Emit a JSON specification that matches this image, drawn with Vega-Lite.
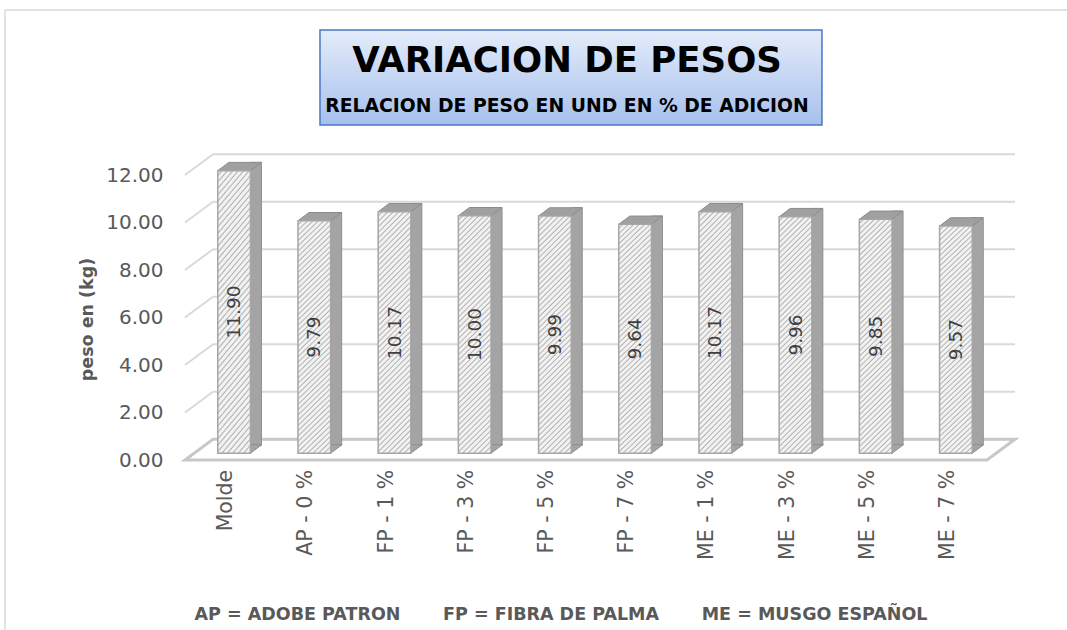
{
  "$schema": "https://vega.github.io/schema/vega-lite/v6.json",
  "width": 802,
  "height": 285,
  "autosize": "none",
  "padding": {"left": 194, "top": 168.3, "right": 71, "bottom": 176.7},
  "background": "white",
  "config": {"view": {"stroke": null}, "font": "DejaVu Sans"},
  "datasets": {
    "bars": [
      {"c": "Molde", "v": 11.90},
      {"c": "AP - 0 %", "v": 9.79},
      {"c": "FP - 1 %", "v": 10.17},
      {"c": "FP - 3 %", "v": 10.00},
      {"c": "FP - 5 %", "v": 9.99},
      {"c": "FP - 7 %", "v": 9.64},
      {"c": "ME - 1 %", "v": 10.17},
      {"c": "ME - 3 %", "v": 9.96},
      {"c": "ME - 5 %", "v": 9.85},
      {"c": "ME - 7 %", "v": 9.57}
    ],
    "grid": [{"g": 0}, {"g": 2}, {"g": 4}, {"g": 6}, {"g": 8}, {"g": 10}, {"g": 12}],
    "one": [{"k": 1}]
  },
  "resolve": {"scale": {"x": "independent", "y": "independent"}},
  "layer": [
    {
      "data": {"name": "one"},
      "mark": {"type": "rule", "color": "#d9d9d9", "strokeWidth": 1.5},
      "encoding": {
        "x": {"datum": -0.2357, "type": "quantitative", "scale": {"domain": [0, 1], "nice": false, "zero": false}, "axis": null},
        "x2": {"datum": 1.1},
        "y": {"datum": 18.67, "type": "quantitative", "scale": {"domain": [0, 12], "nice": false}, "axis": null}
      }
    },
    {
      "data": {"name": "one"},
      "mark": {"type": "rule", "color": "#d9d9d9", "strokeWidth": 1.5},
      "encoding": {
        "x": {"datum": -0.2357, "type": "quantitative", "scale": {"domain": [0, 1], "nice": false, "zero": false}, "axis": null},
        "y": {"datum": 18.67, "type": "quantitative", "scale": {"domain": [0, 12], "nice": false}, "axis": null},
        "y2": {"datum": -8}
      }
    },
    {
      "data": {"name": "one"},
      "mark": {
        "type": "rect",
        "stroke": "#4a76c5",
        "strokeWidth": 1.5,
        "fill": {"gradient": "linear", "x1": 0, "y1": 0, "x2": 0, "y2": 1, "stops": [{"offset": 0, "color": "#e4ecfa"}, {"offset": 1, "color": "#a6c0ec"}]}
      },
      "encoding": {
        "x": {"datum": 0.1571, "type": "quantitative", "scale": {"domain": [0, 1], "nice": false, "zero": false}, "axis": null},
        "x2": {"datum": 0.783},
        "y": {"datum": 17.823, "type": "quantitative", "scale": {"domain": [0, 12], "nice": false}, "axis": null},
        "y2": {"datum": 13.823}
      }
    },
    {
      "data": {"name": "one"},
      "mark": {"type": "text", "text": "VARIACION DE PESOS", "font": "DejaVu Sans", "fontSize": 35.5, "fontWeight": "bold", "color": "#000000", "align": "center", "baseline": "alphabetic"},
      "encoding": {
        "x": {"datum": 0.4651, "type": "quantitative", "scale": {"domain": [0, 1], "nice": false, "zero": false}, "axis": null},
        "y": {"datum": 16.055, "type": "quantitative", "scale": {"domain": [0, 12], "nice": false}, "axis": null}
      }
    },
    {
      "data": {"name": "one"},
      "mark": {"type": "text", "text": "RELACION DE PESO EN UND EN % DE ADICION", "font": "DejaVu Sans", "fontSize": 18.8, "fontWeight": "bold", "color": "#000000", "align": "center", "baseline": "alphabetic"},
      "encoding": {
        "x": {"datum": 0.4651, "type": "quantitative", "scale": {"domain": [0, 1], "nice": false, "zero": false}, "axis": null},
        "y": {"datum": 14.371, "type": "quantitative", "scale": {"domain": [0, 12], "nice": false}, "axis": null}
      }
    },
    {
      "data": {"name": "grid"},
      "mark": {"type": "rule", "color": "#d9d9d9", "strokeWidth": 2, "xOffset": 19, "x2Offset": 19, "yOffset": -14},
      "encoding": {
        "x": {"datum": 0, "type": "quantitative", "scale": {"domain": [0, 1], "nice": false, "zero": false}, "axis": null},
        "x2": {"datum": 1},
        "y": {"field": "g", "type": "quantitative", "scale": {"domain": [0, 12], "nice": false}, "axis": null}
      }
    },
    {
      "data": {"name": "grid"},
      "mark": {"type": "rule", "color": "#d9d9d9", "strokeWidth": 2, "xOffset": -9, "x2Offset": 19, "yOffset": 6.7, "y2Offset": -14},
      "encoding": {
        "x": {"datum": 0, "type": "quantitative", "scale": {"domain": [0, 1], "nice": false, "zero": false}, "axis": null},
        "x2": {"datum": 0},
        "y": {"field": "g", "type": "quantitative", "scale": {"domain": [0, 12], "nice": false}, "axis": null},
        "y2": {"field": "g"}
      }
    },
    {
      "data": {"name": "one"},
      "mark": {"type": "point", "shape": "M -0.82 0.0134 L 0.784 0.0134 L 0.84 -0.028 L -0.764 -0.028 Z", "size": 1000000, "filled": false, "stroke": "#c8c8c8", "strokeWidth": 3, "opacity": 1},
      "encoding": {
        "x": {"datum": 0.5, "type": "quantitative", "scale": {"domain": [0, 1], "nice": false, "zero": false}, "axis": null},
        "y": {"datum": 0, "type": "quantitative", "scale": {"domain": [0, 12], "nice": false}, "axis": null}
      }
    },
    {
      "data": {"name": "bars"},
      "mark": {"type": "bar", "width": 11, "xOffset": 21.85, "yOffset": -8.3, "fill": "#a4a4a4", "stroke": "#8f8f8f", "strokeWidth": 1},
      "encoding": {
        "x": {"field": "c", "type": "nominal", "sort": null, "scale": {"type": "band", "paddingInner": 0, "paddingOuter": 0}, "axis": null},
        "y": {"field": "v", "type": "quantitative", "scale": {"domain": [0, 12], "nice": false}, "axis": null}
      }
    },
    {
      "data": {"name": "bars"},
      "mark": {"type": "point", "shape": "M 0.372 -0.2 L 0.372 0.004 L 0.648 -0.2 Z", "size": 7396, "filled": true, "fill": "#a4a4a4", "stroke": "#8f8f8f", "strokeWidth": 1, "opacity": 1},
      "encoding": {
        "x": {"field": "c", "type": "nominal", "sort": null, "scale": {"type": "band", "paddingInner": 0, "paddingOuter": 0}, "axis": null},
        "y": {"datum": 0, "type": "quantitative", "scale": {"domain": [0, 12], "nice": false}, "axis": null}
      }
    },
    {
      "data": {"name": "bars"},
      "mark": {"type": "point", "shape": "M -0.38 0 L 0.38 0 L 0.636 -0.193 L -0.124 -0.193 Z", "size": 7396, "filled": true, "fill": "#a0a0a0", "stroke": "#8c8c8c", "strokeWidth": 1, "opacity": 1},
      "encoding": {
        "x": {"field": "c", "type": "nominal", "sort": null, "scale": {"type": "band", "paddingInner": 0, "paddingOuter": 0}, "axis": null},
        "y": {"field": "v", "type": "quantitative", "scale": {"domain": [0, 12], "nice": false}, "axis": null}
      }
    },
    {
      "data": {"name": "bars"},
      "mark": {
        "type": "bar",
        "width": 32.7,
        "stroke": "#a6a6a6",
        "strokeWidth": 1.5,
        "fill": {"gradient": "linear", "x1": 0, "y1": 0, "x2": 0.152, "y2": 1.115, "stops": [
          {"offset":0,"color":"#f2f2f2"},{"offset":0.01,"color":"#f2f2f2"},{"offset":0.016,"color":"#b0b0b0"},
          {"offset":0.02,"color":"#f2f2f2"},{"offset":0.03,"color":"#f2f2f2"},{"offset":0.036,"color":"#b0b0b0"},
          {"offset":0.04,"color":"#f2f2f2"},{"offset":0.05,"color":"#f2f2f2"},{"offset":0.056,"color":"#b0b0b0"},
          {"offset":0.06,"color":"#f2f2f2"},{"offset":0.07,"color":"#f2f2f2"},{"offset":0.076,"color":"#b0b0b0"},
          {"offset":0.08,"color":"#f2f2f2"},{"offset":0.09,"color":"#f2f2f2"},{"offset":0.096,"color":"#b0b0b0"},
          {"offset":0.1,"color":"#f2f2f2"},{"offset":0.11,"color":"#f2f2f2"},{"offset":0.116,"color":"#b0b0b0"},
          {"offset":0.12,"color":"#f2f2f2"},{"offset":0.13,"color":"#f2f2f2"},{"offset":0.136,"color":"#b0b0b0"},
          {"offset":0.14,"color":"#f2f2f2"},{"offset":0.15,"color":"#f2f2f2"},{"offset":0.156,"color":"#b0b0b0"},
          {"offset":0.16,"color":"#f2f2f2"},{"offset":0.17,"color":"#f2f2f2"},{"offset":0.176,"color":"#b0b0b0"},
          {"offset":0.18,"color":"#f2f2f2"},{"offset":0.19,"color":"#f2f2f2"},{"offset":0.196,"color":"#b0b0b0"},
          {"offset":0.2,"color":"#f2f2f2"},{"offset":0.21,"color":"#f2f2f2"},{"offset":0.216,"color":"#b0b0b0"},
          {"offset":0.22,"color":"#f2f2f2"},{"offset":0.23,"color":"#f2f2f2"},{"offset":0.236,"color":"#b0b0b0"},
          {"offset":0.24,"color":"#f2f2f2"},{"offset":0.25,"color":"#f2f2f2"},{"offset":0.256,"color":"#b0b0b0"},
          {"offset":0.26,"color":"#f2f2f2"},{"offset":0.27,"color":"#f2f2f2"},{"offset":0.276,"color":"#b0b0b0"},
          {"offset":0.28,"color":"#f2f2f2"},{"offset":0.29,"color":"#f2f2f2"},{"offset":0.296,"color":"#b0b0b0"},
          {"offset":0.3,"color":"#f2f2f2"},{"offset":0.31,"color":"#f2f2f2"},{"offset":0.316,"color":"#b0b0b0"},
          {"offset":0.32,"color":"#f2f2f2"},{"offset":0.33,"color":"#f2f2f2"},{"offset":0.336,"color":"#b0b0b0"},
          {"offset":0.34,"color":"#f2f2f2"},{"offset":0.35,"color":"#f2f2f2"},{"offset":0.356,"color":"#b0b0b0"},
          {"offset":0.36,"color":"#f2f2f2"},{"offset":0.37,"color":"#f2f2f2"},{"offset":0.376,"color":"#b0b0b0"},
          {"offset":0.38,"color":"#f2f2f2"},{"offset":0.39,"color":"#f2f2f2"},{"offset":0.396,"color":"#b0b0b0"},
          {"offset":0.4,"color":"#f2f2f2"},{"offset":0.41,"color":"#f2f2f2"},{"offset":0.416,"color":"#b0b0b0"},
          {"offset":0.42,"color":"#f2f2f2"},{"offset":0.43,"color":"#f2f2f2"},{"offset":0.436,"color":"#b0b0b0"},
          {"offset":0.44,"color":"#f2f2f2"},{"offset":0.45,"color":"#f2f2f2"},{"offset":0.456,"color":"#b0b0b0"},
          {"offset":0.46,"color":"#f2f2f2"},{"offset":0.47,"color":"#f2f2f2"},{"offset":0.476,"color":"#b0b0b0"},
          {"offset":0.48,"color":"#f2f2f2"},{"offset":0.49,"color":"#f2f2f2"},{"offset":0.496,"color":"#b0b0b0"},
          {"offset":0.5,"color":"#f2f2f2"},{"offset":0.51,"color":"#f2f2f2"},{"offset":0.516,"color":"#b0b0b0"},
          {"offset":0.52,"color":"#f2f2f2"},{"offset":0.53,"color":"#f2f2f2"},{"offset":0.536,"color":"#b0b0b0"},
          {"offset":0.54,"color":"#f2f2f2"},{"offset":0.55,"color":"#f2f2f2"},{"offset":0.556,"color":"#b0b0b0"},
          {"offset":0.56,"color":"#f2f2f2"},{"offset":0.57,"color":"#f2f2f2"},{"offset":0.576,"color":"#b0b0b0"},
          {"offset":0.58,"color":"#f2f2f2"},{"offset":0.59,"color":"#f2f2f2"},{"offset":0.596,"color":"#b0b0b0"},
          {"offset":0.6,"color":"#f2f2f2"},{"offset":0.61,"color":"#f2f2f2"},{"offset":0.616,"color":"#b0b0b0"},
          {"offset":0.62,"color":"#f2f2f2"},{"offset":0.63,"color":"#f2f2f2"},{"offset":0.636,"color":"#b0b0b0"},
          {"offset":0.64,"color":"#f2f2f2"},{"offset":0.65,"color":"#f2f2f2"},{"offset":0.656,"color":"#b0b0b0"},
          {"offset":0.66,"color":"#f2f2f2"},{"offset":0.67,"color":"#f2f2f2"},{"offset":0.676,"color":"#b0b0b0"},
          {"offset":0.68,"color":"#f2f2f2"},{"offset":0.69,"color":"#f2f2f2"},{"offset":0.696,"color":"#b0b0b0"},
          {"offset":0.7,"color":"#f2f2f2"},{"offset":0.71,"color":"#f2f2f2"},{"offset":0.716,"color":"#b0b0b0"},
          {"offset":0.72,"color":"#f2f2f2"},{"offset":0.73,"color":"#f2f2f2"},{"offset":0.736,"color":"#b0b0b0"},
          {"offset":0.74,"color":"#f2f2f2"},{"offset":0.75,"color":"#f2f2f2"},{"offset":0.756,"color":"#b0b0b0"},
          {"offset":0.76,"color":"#f2f2f2"},{"offset":0.77,"color":"#f2f2f2"},{"offset":0.776,"color":"#b0b0b0"},
          {"offset":0.78,"color":"#f2f2f2"},{"offset":0.79,"color":"#f2f2f2"},{"offset":0.796,"color":"#b0b0b0"},
          {"offset":0.8,"color":"#f2f2f2"},{"offset":0.81,"color":"#f2f2f2"},{"offset":0.816,"color":"#b0b0b0"},
          {"offset":0.82,"color":"#f2f2f2"},{"offset":0.83,"color":"#f2f2f2"},{"offset":0.836,"color":"#b0b0b0"},
          {"offset":0.84,"color":"#f2f2f2"},{"offset":0.85,"color":"#f2f2f2"},{"offset":0.856,"color":"#b0b0b0"},
          {"offset":0.86,"color":"#f2f2f2"},{"offset":0.87,"color":"#f2f2f2"},{"offset":0.876,"color":"#b0b0b0"},
          {"offset":0.88,"color":"#f2f2f2"},{"offset":0.89,"color":"#f2f2f2"},{"offset":0.896,"color":"#b0b0b0"},
          {"offset":0.9,"color":"#f2f2f2"},{"offset":0.91,"color":"#f2f2f2"},{"offset":0.916,"color":"#b0b0b0"},
          {"offset":0.92,"color":"#f2f2f2"},{"offset":0.93,"color":"#f2f2f2"},{"offset":0.936,"color":"#b0b0b0"},
          {"offset":0.94,"color":"#f2f2f2"},{"offset":0.95,"color":"#f2f2f2"},{"offset":0.956,"color":"#b0b0b0"},
          {"offset":0.96,"color":"#f2f2f2"},{"offset":0.97,"color":"#f2f2f2"},{"offset":0.976,"color":"#b0b0b0"},
          {"offset":0.98,"color":"#f2f2f2"},{"offset":0.99,"color":"#f2f2f2"},{"offset":0.996,"color":"#b0b0b0"},
          {"offset":1,"color":"#f2f2f2"}
        ]}
      },
      "encoding": {
        "x": {
          "field": "c", "type": "nominal", "sort": null,
          "scale": {"type": "band", "paddingInner": 0, "paddingOuter": 0},
          "axis": {
            "labelAngle": 270, "labelAlign": "right", "labelBaseline": "middle",
            "labelPadding": 16, "labelOffset": -8, "ticks": false, "domain": false, "grid": false,
            "labelFont": "DejaVu Sans", "labelFontSize": 20.5, "labelColor": "#595959", "labelLimit": 0,
            "title": "AP = ADOBE PATRON\u00a0\u00a0\u00a0\u00a0\u00a0\u00a0\u00a0FP = FIBRA DE PALMA\u00a0\u00a0\u00a0\u00a0\u00a0\u00a0\u00a0ME = MUSGO ESPAÑOL",
            "titleFont": "DejaVu Sans", "titleFontSize": 17.5, "titleFontWeight": "bold", "titleColor": "#595959",
            "titleX": 366.5, "titleY": 165.7, "titleAlign": "center", "titleBaseline": "alphabetic", "titleAngle": 0
          }
        },
        "y": {
          "field": "v", "type": "quantitative",
          "scale": {"domain": [0, 12], "nice": false},
          "axis": {
            "values": [0, 2, 4, 6, 8, 10, 12], "format": ".2f",
            "labelOffset": 6.7, "labelPadding": 31, "ticks": false, "domain": false, "grid": false,
            "labelFont": "DejaVu Sans", "labelFontSize": 20, "labelColor": "#595959",
            "title": "peso en (kg)", "titleFont": "DejaVu Sans", "titleFontSize": 17.5, "titleFontWeight": "bold", "titleColor": "#595959",
            "titleX": -107, "titleY": 150.7, "titleAngle": 270, "titleAlign": "center", "titleBaseline": "middle"
          }
        }
      }
    },
    {
      "data": {"name": "bars"},
      "mark": {"type": "text", "angle": 270, "font": "DejaVu Sans", "fontSize": 18.5, "color": "#404040", "align": "center", "baseline": "middle"},
      "encoding": {
        "x": {"field": "c", "type": "nominal", "sort": null, "scale": {"type": "band", "paddingInner": 0, "paddingOuter": 0}, "axis": null},
        "y": {"field": "v", "type": "quantitative", "scale": {"domain": [0, 24], "nice": false}, "axis": null},
        "text": {"field": "v", "type": "quantitative", "format": ".2f"}
      }
    }
  ]
}
